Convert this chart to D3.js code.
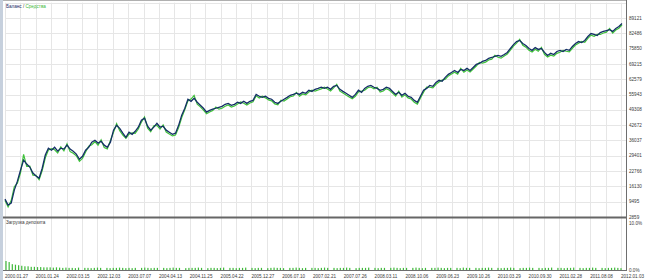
<!DOCTYPE html>
<html>
<head>
<meta charset="utf-8">
<script src="https://cdn.jsdelivr.net/npm/d3@7"></script>
<style>
  html, body { margin: 0; padding: 0; background: #fff; }
  svg { display: block; }
  text { font-family: "Liberation Sans", Arial, sans-serif; font-size: 4.6px; fill: #3a3a3a; }
</style>
</head>
<body>
<svg id="chart" width="650" height="280"></svg>
<script>
// --- data (balance / equity in thousands USD) ---
const balance = [
  10.6, 8.0, 8.9, 14.5, 18.4, 23.2, 27.5, 25.8, 24.5, 21.9, 20.6, 19.7, 24.0, 29.7, 32.7, 31.8, 33.1, 31.4, 32.7, 32.3,
  34.0, 32.3, 31.4, 30.1, 27.9, 29.2, 31.8, 33.1, 35.3, 36.1, 34.9, 35.7, 34.0, 33.1, 35.3, 40.5, 42.6, 41.3, 39.2, 37.4,
  39.6, 38.7, 40.0, 41.8, 44.8, 45.7, 42.2, 40.5, 41.8, 43.5, 41.8, 42.2, 40.5, 39.6, 38.7, 39.2, 42.6, 47.0, 50.0, 53.9,
  53.0, 54.3, 52.6, 51.3, 50.0, 48.3, 49.1, 49.6, 50.0, 50.4, 50.8, 51.7, 52.1, 51.3, 51.7, 52.6, 52.1, 53.0, 52.1, 53.0,
  53.4, 56.0, 55.2, 54.7, 55.2, 54.3, 53.9, 52.6, 52.1, 53.0, 53.9, 54.7, 55.6, 56.0, 56.5, 56.0, 56.9, 56.5, 57.8, 57.3,
  58.2, 58.6, 59.1, 58.6, 59.1, 58.2, 59.5, 59.9, 58.2, 57.3, 56.5, 55.6, 54.7, 56.0, 57.8, 56.9, 58.6, 59.5, 59.9, 59.1,
  58.6, 57.8, 58.2, 59.1, 58.6, 57.3, 56.0, 56.9, 55.6, 56.5, 55.2, 54.7, 53.4, 52.6, 55.2, 57.8, 58.6, 59.9, 59.5, 61.2,
  62.1, 61.7, 63.4, 64.7, 65.5, 66.4, 65.5, 66.8, 66.4, 67.3, 66.4, 67.7, 69.0, 69.4, 70.3, 70.7, 71.6, 72.0, 72.5, 72.9,
  72.5, 73.3, 74.2, 75.9, 77.6, 78.9, 79.4, 78.1, 77.2, 75.9, 75.1, 76.3, 75.5, 75.9, 74.2, 72.9, 73.8, 73.3, 74.6, 75.1,
  74.6, 75.5, 75.1, 76.8, 78.1, 78.9, 78.5, 79.4, 81.1, 82.4, 82.0, 81.5, 82.8, 83.3, 83.7, 84.1, 83.3, 84.6, 85.4, 86.7
];
const equity = [
  10.0, 7.2, 10.0, 16.0, 17.5, 22.0, 30.0, 24.8, 24.9, 21.0, 20.9, 19.0, 23.0, 28.5, 31.9, 32.5, 32.0, 30.6, 33.3, 31.5,
  34.6, 31.2, 30.5, 29.4, 27.0, 28.3, 31.0, 33.5, 34.2, 35.5, 34.0, 36.3, 33.0, 32.4, 36.0, 39.6, 43.3, 40.3, 38.4, 37.0,
  38.8, 39.3, 39.1, 41.0, 44.0, 46.2, 41.4, 39.8, 42.4, 42.6, 41.0, 42.8, 39.7, 38.8, 38.0, 38.4, 41.6, 46.0, 49.4, 53.2,
  54.0, 55.6, 51.8, 50.6, 49.2, 47.6, 48.4, 49.0, 50.5, 49.6, 50.0, 50.9, 51.4, 50.5, 51.0, 51.8, 52.7, 52.2, 51.4, 52.3,
  52.8, 55.4, 54.4, 55.2, 54.5, 53.6, 53.2, 51.9, 51.5, 53.5, 53.1, 54.0, 55.0, 55.3, 56.9, 55.2, 56.2, 55.8, 57.0, 57.8,
  57.4, 57.9, 58.4, 59.1, 58.3, 57.5, 58.8, 60.4, 57.4, 56.6, 55.7, 54.9, 54.1, 55.2, 57.1, 57.4, 57.8, 58.9, 59.2, 58.4,
  59.1, 57.0, 57.5, 58.5, 57.8, 56.6, 55.3, 57.4, 54.8, 55.8, 54.5, 54.0, 52.6, 51.8, 54.5, 57.0, 59.2, 59.1, 58.8, 60.4,
  61.4, 62.2, 62.6, 64.0, 64.8, 65.6, 64.8, 67.3, 65.6, 66.6, 65.7, 67.0, 68.3, 69.9, 69.6, 70.0, 70.9, 71.3, 73.0, 72.1,
  71.7, 72.6, 73.5, 75.2, 76.9, 78.2, 79.9, 77.3, 76.5, 75.1, 74.4, 75.6, 74.7, 76.4, 73.4, 72.2, 73.0, 72.6, 73.8, 74.3,
  75.1, 74.7, 74.4, 76.0, 77.4, 78.2, 79.0, 78.6, 80.3, 81.7, 81.2, 82.0, 82.0, 82.6, 83.0, 84.6, 82.6, 83.9, 84.7, 86.2
];
// deposit load, percent
const load = [
  1.7, 1.5, 1.1, 1.0, 0.9, 0.8, 0.7, 0.7, 0.6, 0.6, 0.55, 0.55, 0.5, 0.5, 0.5, 0.45, 0.5, 0.45, 0.4, 0.45,
  0.4, 0.4, 0.35, 0.45, 0, 0.4, 0.4, 0.35, 0.4, 0.45, 0.4, 0, 0.4, 0.35, 0.4, 0.4, 0.45, 0.4, 0.35, 0.4,
  0.35, 0.4, 0, 0.4, 0.45, 0.4, 0.35, 0.4, 0.4, 0, 0.4, 0.35, 0.4, 0.45, 0.4, 0.4, 0, 0.35, 0.4, 0.4,
  0.4, 0.45, 0.4, 0, 0.35, 0.4, 0.4, 0.35, 0.4, 0.45, 0, 0.4, 0.4, 0.35, 0.4, 0.4, 0.45, 0, 0.4, 0.35,
  0.4, 0.4, 0, 0.35, 0.4, 0.45, 0.4, 0.4, 0.35, 0, 0.4, 0.4, 0.45, 0.4, 0.35, 0.4, 0, 0.4, 0.4, 0.35,
  0.4, 0.45, 0.4, 0, 0.4, 0.35, 0.4, 0.4, 0.45, 0.4, 0, 0.35, 0.4, 0.4, 0.4, 0.45, 0, 0.4, 0.35, 0.4,
  0.4, 0, 0.4, 0.45, 0.4, 0.35, 0.4, 0.4, 0, 0.4, 0.45, 0.4, 0.35, 0.4, 0, 0.4, 0.4, 0.45, 0.4, 0.35,
  0.4, 0.4, 0, 0.4, 0.35, 0.45, 0.4, 0.4, 0, 0.4, 0.35, 0.4, 0.4, 0.45, 0.4, 0, 0.4, 0.35, 0.4, 0.4,
  0.45, 0.4, 0, 0.35, 0.4, 0.4, 0.45, 0.4, 0, 0.4, 0.35, 0.4, 0.4, 0.45, 0, 0.4, 0.4, 0.35, 0.4, 0.4,
  0.45, 0, 0.4, 0.35, 0.4, 0.4, 0.45, 0.4, 0, 0.4, 0.35, 0.4, 0.4, 0.45, 0.4, 0.35
];
const yTicks = [2859, 9495, 16130, 22766, 29401, 36037, 42672, 49308, 55943, 62579, 69215, 75850, 82486, 89121];
const dateLabels = [
  "2000.01.27", "2001.01.24", "2002.03.15", "2002.12.03", "2003.07.07", "2004.04.13", "2004.11.25",
  "2005.04.22", "2005.12.27", "2006.07.10", "2007.02.21", "2007.07.26", "2008.03.11", "2008.10.06",
  "2009.06.23", "2009.10.26", "2010.03.29", "2010.09.30", "2011.02.28", "2011.08.08", "2012.01.03"
];
const loadTicks = ["10.0%", "0.0%"];

const svg = d3.select("#chart");
const plotL = 5, plotR = 626;
const topY = 2.7, sepY = 217, botY = 270.5;

// scales
const y = d3.scaleLinear().domain([yTicks[0], yTicks[yTicks.length - 1]]).range([sepY, 18]);
const x = d3.scaleLinear().domain([0, balance.length - 1]).range([5, 622]);
const xDate = d3.scalePoint().domain(dateLabels).range([5, 621]);
const xGrid = d3.scaleLinear().domain([0, 40]).range([5, 621]);
const xLoad = d3.scaleLinear().domain([0, load.length - 1]).range([6, 621]);
const yLoad = d3.scaleLinear().domain([0, 10]).range([botY - 0.5, sepY]);

// window frame strip on the left
svg.append("rect").attr("x", 0).attr("y", 0).attr("width", 3).attr("height", 280).attr("fill", "#c6d0dd");

// grid
const grid = svg.append("g").attr("stroke", "#e6e6e6").attr("stroke-width", 1);
grid.selectAll("line.v")
    .data(d3.range(41))
    .join("line")
    .attr("class", "v")
    .attr("x1", d => Math.round(xGrid(d)) + 0.5).attr("x2", d => Math.round(xGrid(d)) + 0.5)
    .attr("y1", topY).attr("y2", botY);
grid.selectAll("line.h")
    .data(yTicks.slice(1).concat([yTicks[yTicks.length - 1] + (yTicks[1] - yTicks[0])]))
    .join("line")
    .attr("class", "h")
    .attr("x1", plotL).attr("x2", plotR)
    .attr("y1", d => Math.round(y(d)) + 0.5).attr("y2", d => Math.round(y(d)) + 0.5);

// frame lines
svg.append("line").attr("x1", 3).attr("x2", plotR).attr("y1", 0.5).attr("y2", 0.5).attr("stroke", "#b0b0b0");
svg.append("line").attr("x1", plotR + 0.5).attr("x2", plotR + 0.5).attr("y1", 0).attr("y2", botY).attr("stroke", "#6e6e6e");
svg.append("line").attr("x1", 3).attr("x2", plotR).attr("y1", sepY + 0.5).attr("y2", sepY + 0.5)
    .attr("stroke", "#666").attr("stroke-width", 2);
svg.append("line").attr("x1", 3).attr("x2", plotR + 1).attr("y1", botY).attr("y2", botY).attr("stroke", "#6e6e6e");

// equity then balance on top
const line = d3.line().x((d, i) => x(i)).y(d => y(d * 1000));
svg.append("path").datum(equity).attr("d", line)
    .attr("fill", "none").attr("stroke", "#3fc23a").attr("stroke-width", 1.2).attr("stroke-linejoin", "miter");
svg.append("path").datum(balance).attr("d", line)
    .attr("fill", "none").attr("stroke", "#142f66").attr("stroke-width", 1.3).attr("stroke-linejoin", "miter");

// deposit load bars
svg.append("g").selectAll("rect")
    .data(load)
    .join("rect")
    .attr("x", (d, i) => xLoad(i) - 0.6)
    .attr("width", 1.2)
    .attr("y", d => yLoad(d))
    .attr("height", d => yLoad(0) - yLoad(d))
    .attr("fill", "#3fb83a");

// right axis labels
svg.append("g").selectAll("text")
    .data(yTicks)
    .join("text")
    .attr("x", plotR + 3)
    .attr("y", d => y(d))
    .attr("dy", "0.35em")
    .text(d => d);
svg.append("text").attr("x", plotR + 3).attr("y", sepY + 6).attr("dy", "0.35em").text(loadTicks[0]);
svg.append("text").attr("x", plotR + 3).attr("y", botY).attr("dy", "0.35em").text(loadTicks[1]);

// date labels
svg.append("g").selectAll("text")
    .data(dateLabels)
    .join("text")
    .attr("x", d => xDate(d))
    .attr("y", 277.5)
    .text(d => d);

// legend + pane title
const legend = svg.append("text").attr("x", 6).attr("y", 7.5);
legend.append("tspan").attr("fill", "#1a2a66").text("Баланс");
legend.append("tspan").attr("fill", "#333").text(" / ");
legend.append("tspan").attr("fill", "#3cb93a").text("Средства");
svg.append("text").attr("x", 6).attr("y", 224).text("Загрузка депозита");
</script>
</body>
</html>
